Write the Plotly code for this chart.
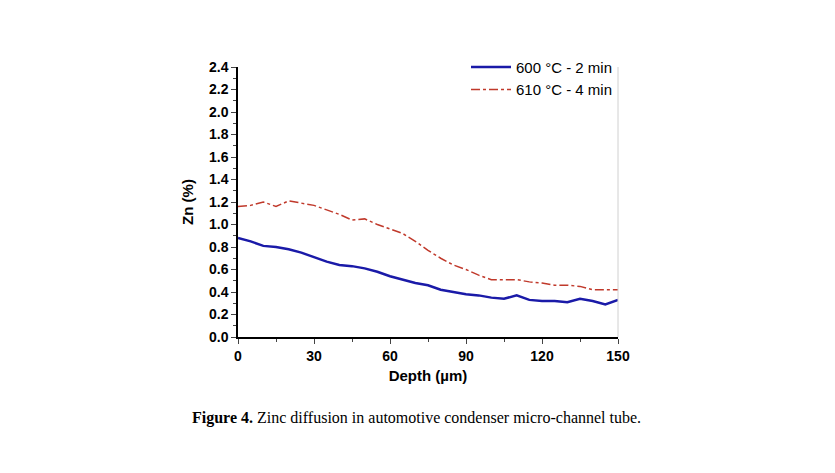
import plotly.graph_objects as go

depth = [0, 5, 10, 15, 20, 25, 30, 35, 40, 45, 50, 55, 60, 65, 70, 75, 80, 85, 90, 95,
         100, 105, 110, 115, 120, 125, 130, 135, 140, 145, 150]
zn_600 = [0.88, 0.85, 0.81, 0.80, 0.78, 0.75, 0.71, 0.67, 0.64, 0.63, 0.61, 0.58, 0.54, 0.51,
          0.48, 0.46, 0.42, 0.40, 0.38, 0.37, 0.35, 0.34, 0.37, 0.33, 0.32, 0.32, 0.31, 0.34,
          0.32, 0.29, 0.33]
zn_610 = [1.16, 1.17, 1.20, 1.16, 1.21, 1.19, 1.17, 1.13, 1.09, 1.04, 1.05, 1.00, 0.96, 0.92,
          0.85, 0.77, 0.70, 0.64, 0.60, 0.55, 0.51, 0.51, 0.51, 0.49, 0.48, 0.46, 0.46, 0.45,
          0.42, 0.42, 0.42]
x_ticks = [0, 30, 60, 90, 120, 150]
y_ticks = [round(0.2 * i, 1) for i in range(13)]

fig = go.Figure()
fig.add_trace(go.Scatter(x=depth, y=zn_600, mode="lines", name="600 °C - 2 min",
                         line=dict(color="#1a1aa8", width=2.5)))
fig.add_trace(go.Scatter(x=depth, y=zn_610, mode="lines", name="610 °C - 4 min",
                         line=dict(color="#c0392b", width=1.5, dash="dashdot")))

axis_font = dict(family="Arial, Liberation Sans", size=15, color="black")
tick_font = dict(family="Arial, Liberation Sans", size=14, color="black")
fig.update_xaxes(range=[0, 150], tickvals=x_ticks, ticktext=[f"<b>{v}</b>" for v in x_ticks],
                 ticks="outside", ticklen=5,
                 showline=True, linecolor="black", linewidth=1.5, showgrid=False, zeroline=False,
                 tickfont=tick_font,
                 title=dict(text="<b>Depth (µm)</b>", font=axis_font, standoff=8),
                 minor=dict(ticks="outside", ticklen=3, dtick=15))
fig.update_yaxes(range=[0, 2.4], tickvals=y_ticks, ticktext=[f"<b>{v:.1f}</b>" for v in y_ticks],
                 ticks="outside", ticklen=5,
                 showline=True, linecolor="black", linewidth=1.5, showgrid=False, zeroline=False,
                 tickfont=tick_font,
                 title=dict(text="<b>Zn (%)</b>", font=axis_font, standoff=12),
                 minor=dict(ticks="outside", ticklen=3, dtick=0.1))

fig.add_shape(type="line", xref="paper", yref="paper", x0=1, x1=1, y0=0, y1=1,
              line=dict(color="#d0d0d0", width=1))
fig.add_annotation(xref="paper", yref="paper", x=0.47, y=-0.34, showarrow=False,
                   text="<b>Figure 4.</b> Zinc diffusion in automotive condenser micro-channel tube.",
                   font=dict(family="Times New Roman, Liberation Serif", size=16, color="black"))

fig.update_layout(
    width=835, height=473, paper_bgcolor="white", plot_bgcolor="white",
    margin=dict(l=230, r=225, t=59, b=144),
    legend=dict(x=1.0, y=1.06, xanchor="right", yanchor="top", bgcolor="rgba(0,0,0,0)",
                font=dict(family="Arial, Liberation Sans", size=15, color="black"),
                tracegroupgap=0, itemwidth=40),
)
fig.write_html("out.html")
